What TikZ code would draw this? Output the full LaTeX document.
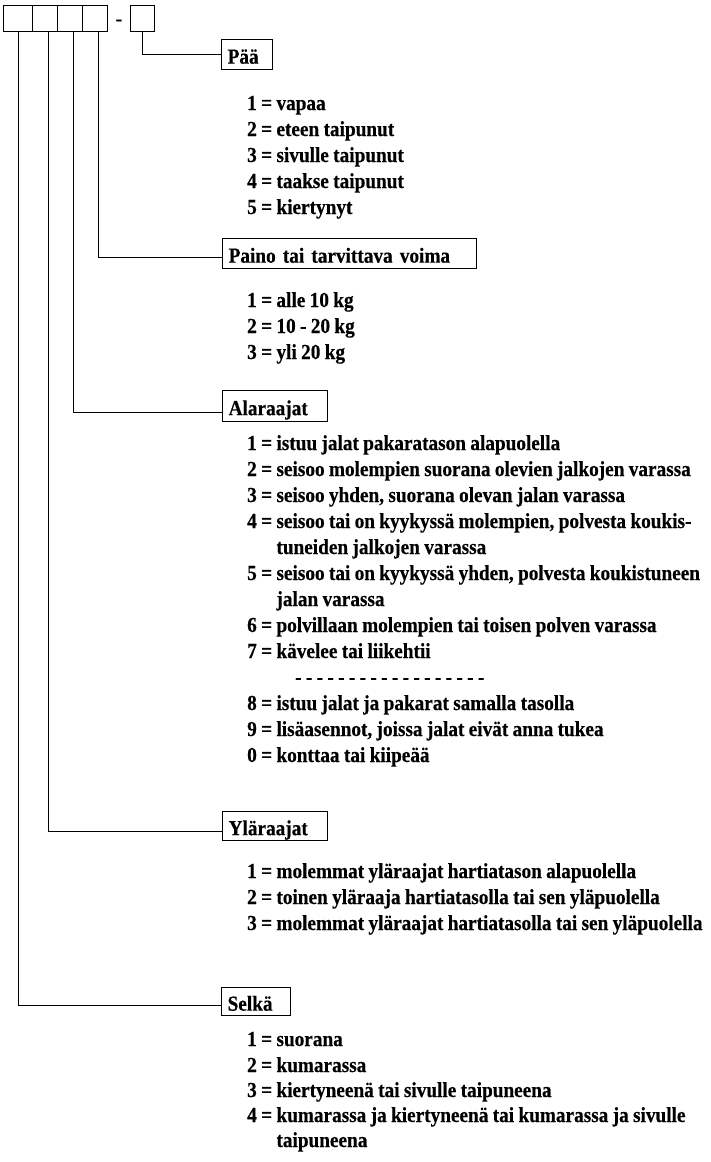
\documentclass[tikz,border=0pt]{standalone}
\usepackage{fontspec}
\setmainfont{Liberation Serif}[FakeStretch=0.9, WordSpace=0.9, FakeBold=0.4]
\begin{document}
\begin{tikzpicture}[x=1pt,y=-1pt,
  every node/.style={font=\fontsize{21.4pt}{25pt}\selectfont\bfseries},
  topbox/.style={draw, line width=1.3pt, minimum height=26pt, inner sep=0pt, anchor=north west},
  catbox/.style={draw, line width=1.3pt, anchor=north west, inner xsep=6pt, inner ysep=0pt, align=left, text height=18pt, text depth=0pt},
  item/.style={anchor=base west, inner sep=0pt},
  link/.style={line width=1.3pt}]
\useasboundingbox (0,0) rectangle (710,1162);

% code boxes
\node[topbox, minimum width=29pt] (b1) at (3,5) {};
\node[topbox, minimum width=25pt] (b2) at (32,5) {};
\node[topbox, minimum width=25pt] (b3) at (57,5) {};
\node[topbox, minimum width=25pt] (b4) at (82,5) {};
\node[item, anchor=base] (dash) at (119,25.5) {-};
\node[topbox, minimum width=24pt] (b5) at (130,5) {};

% category boxes
\node[catbox, text width=39pt, minimum height=30pt] (paa) at (221,39) {Pää};
\node[catbox, text width=242pt, minimum height=30pt] (paino) at (222,238) {Paino tai tarvittava voima};
\node[catbox, text width=93pt, minimum height=31pt] (ala) at (222,390) {Alaraajat};
\node[catbox, text width=93pt, minimum height=29pt] (yla) at (222,811) {Yläraajat};
\node[catbox, text width=57pt, minimum height=28pt] (selka) at (221,987) {Selkä};

% connectors
\draw[link] (b5.south) |- (paa.west);
\draw[link] ([xshift=3pt]b4.south) |- ([yshift=-4pt]paino.west);
\draw[link] ([xshift=3pt]b3.south) |- ([yshift=-6.5pt]ala.west);
\draw[link] ([xshift=3pt]b2.south) |- ([yshift=-5.5pt]yla.west);
\draw[link] (b1.south) |- ([yshift=-4pt]selka.west);

% Pää
\node[item] (p1) at (247,110) {1 = vapaa};
\node[item] (p2) at (247,136) {2 = eteen taipunut};
\node[item] (p3) at (247,162) {3 = sivulle taipunut};
\node[item] (p4) at (247,188) {4 = taakse taipunut};
\node[item] (p5) at (247,214) {5 = kiertynyt};

% Paino
\node[item] (w1) at (247,307) {1 = alle 10 kg};
\node[item] (w2) at (247,333) {2 = 10 - 20 kg};
\node[item] (w3) at (247,359) {3 = yli 20 kg};

% Alaraajat
\node[item] (a1) at (247,450) {1 = istuu jalat pakaratason alapuolella};
\node[item] (a2) at (247,476) {2 = seisoo molempien suorana olevien jalkojen varassa};
\node[item] (a3) at (247,502) {3 = seisoo yhden, suorana olevan jalan varassa};
\node[item] (a4) at (247,528) {4 = seisoo tai on kyykyssä molempien, polvesta koukis-};
\node[item] (a4b) at (247,554) {\phantom{4 = }tuneiden jalkojen varassa};
\node[item] (a5) at (247,580) {5 = seisoo tai on kyykyssä yhden, polvesta koukistuneen};
\node[item] (a5b) at (247,606) {\phantom{5 = }jalan varassa};
\node[item] (a6) at (247,632) {6 = polvillaan molempien tai toisen polven varassa};
\node[item] (a7) at (247,658) {7 = kävelee tai liikehtii};
\node[item] (adash) at (295,684) {- - - - - - - - - - - - - - - - - -};
\node[item] (a8) at (247,710) {8 = istuu jalat ja pakarat samalla tasolla};
\node[item] (a9) at (247,736) {9 = lisäasennot, joissa jalat eivät anna tukea};
\node[item] (a0) at (247,762) {0 = konttaa tai kiipeää};

% Yläraajat
\node[item] (u1) at (247,878) {1 = molemmat yläraajat hartiatason alapuolella};
\node[item] (u2) at (247,904) {2 = toinen yläraaja hartiatasolla tai sen yläpuolella};
\node[item] (u3) at (247,930) {3 = molemmat yläraajat hartiatasolla tai sen yläpuolella};

% Selkä
\node[item] (s1) at (247,1046) {1 = suorana};
\node[item] (s2) at (247,1072) {2 = kumarassa};
\node[item] (s3) at (247,1097) {3 = kiertyneenä tai sivulle taipuneena};
\node[item] (s4) at (247,1122) {4 = kumarassa ja kiertyneenä tai kumarassa ja sivulle};
\node[item] (s4b) at (247,1147) {\phantom{4 = }taipuneena};
\end{tikzpicture}
\end{document}
